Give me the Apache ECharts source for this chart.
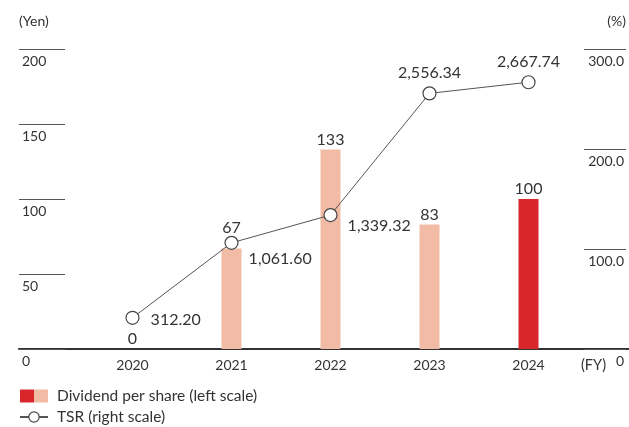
<!DOCTYPE html>
<html>
<head>
<meta charset="utf-8">
<script src="https://cdn.jsdelivr.net/npm/echarts@6/dist/echarts.min.js"></script>
<style>
  html, body { margin: 0; padding: 0; background: #fff; }
  #chart { width: 629px; height: 427px; }
</style>
</head>
<body>
<div id="chart"></div>
<script>
// Fiscal years and values
const years = ['2020', '2021', '2022', '2023', '2024'];
const dividendPerShare = [0, 67, 133, 83, 100];           // Yen, left scale
const tsrValues = [312.20, 1061.60, 1339.32, 2556.34, 2667.74]; // %, right scale
const leftTickLabels = ['0', '50', '100', '150', '200'];
const rightTickLabels = ['0', '100.0', '200.0', '300.0'];

const FONT = 'Lato, "Noto Sans", sans-serif';
const TEXT = '#333';
const SALMON = '#F2BBA6';
const RED = '#D8262B';

const fmtNum = v => v.toLocaleString('en-US', { minimumFractionDigits: 2, maximumFractionDigits: 2 });

// Per-point label placement for the TSR line
const tsrLabelPlacement = [
  { position: 'right', distance: 11, offset: [0, 2] },
  { position: 'right', distance: 10, offset: [0, 16] },
  { position: 'right', distance: 10, offset: [0, 11] },
  { position: 'top', distance: 5, offset: [0, 0] },
  { position: 'top', distance: 5, offset: [0, 0] }
];

const chart = echarts.init(document.getElementById('chart'), null, { renderer: 'canvas' });

chart.setOption({
  animation: false,
  textStyle: { fontFamily: FONT, color: TEXT },
  grid: [
    { left: 83, right: 48, top: 49, bottom: 78 },
    { left: 19, right: 0, top: 49, bottom: 78 }
  ],
  legend: {
    orient: 'vertical',
    left: 19,
    top: 388,
    height: 80,
    padding: 0,
    itemWidth: 28,
    itemHeight: 13,
    itemGap: 5,
    textStyle: { fontFamily: FONT, fontSize: 15.5, color: TEXT, padding: [0, 0, 0, 4] },
    data: [
      {
        name: 'Dividend per share (left scale)',
        icon: 'rect',
        itemStyle: {
          color: {
            type: 'linear', x: 0, y: 0, x2: 1, y2: 0,
            colorStops: [
              { offset: 0, color: RED }, { offset: 0.5, color: RED },
              { offset: 0.5, color: SALMON }, { offset: 1, color: SALMON }
            ]
          }
        }
      },
      { name: 'TSR (right scale)', itemStyle: { borderWidth: 1.2 } }
    ]
  },
  xAxis: [
    {
      type: 'category',
      gridIndex: 0,
      data: years,
      name: '(FY)',
      nameLocation: 'end',
      nameGap: 3,
      nameTextStyle: { fontFamily: FONT, fontSize: 14.5, color: TEXT, verticalAlign: 'top', padding: [9, 0, 0, 0] },
      axisLine: { show: false },
      axisTick: { show: false },
      axisLabel: { fontFamily: FONT, fontSize: 14, color: TEXT, margin: 9 }
    },
    {
      // full-width baseline
      type: 'value',
      gridIndex: 1,
      min: 0,
      max: 1,
      axisLine: { show: true, lineStyle: { color: '#333', width: 2 } },
      axisTick: { show: false },
      axisLabel: { show: false },
      splitLine: { show: false }
    }
  ],
  yAxis: [
    {
      type: 'value',
      gridIndex: 0,
      position: 'left',
      offset: 64,
      min: 0,
      max: 200,
      interval: 50,
      name: '(Yen)',
      nameLocation: 'end',
      nameGap: 21,
      nameTextStyle: { fontFamily: FONT, fontSize: 14, color: TEXT, align: 'left' },
      axisLine: { show: false },
      axisTick: { show: true, inside: true, length: 46, lineStyle: { color: '#555', width: 1 } },
      splitLine: { show: false },
      axisLabel: {
        inside: true,
        margin: 3,
        align: 'left',
        verticalAlign: 'top',
        padding: [5, 0, 0, 0],
        fontFamily: FONT, fontSize: 14, color: TEXT,
        formatter: v => leftTickLabels[Math.round(v / 50)]
      }
    },
    {
      type: 'value',
      gridIndex: 0,
      position: 'right',
      offset: 48,
      min: 0,
      max: 3000,
      interval: 1000,
      name: '(%)',
      nameLocation: 'end',
      nameGap: 21,
      nameTextStyle: { fontFamily: FONT, fontSize: 14, color: TEXT, align: 'right' },
      axisLine: { show: false },
      axisTick: { show: true, inside: true, length: 42, lineStyle: { color: '#555', width: 1 } },
      splitLine: { show: false },
      axisLabel: {
        inside: true,
        margin: 2,
        align: 'right',
        verticalAlign: 'top',
        padding: [5, 0, 0, 0],
        fontFamily: FONT, fontSize: 14, color: TEXT,
        formatter: v => rightTickLabels[Math.round(v / 1000)]
      }
    },
    {
      type: 'value',
      gridIndex: 1,
      show: false,
      min: 0,
      max: 1
    }
  ],
  series: [
    {
      name: 'Dividend per share (left scale)',
      type: 'bar',
      xAxisIndex: 0,
      yAxisIndex: 0,
      barWidth: 20,
      z: 2,
      itemStyle: { color: SALMON },
      label: {
        show: true,
        position: 'top',
        distance: 2,
        fontFamily: FONT, fontSize: 16, color: TEXT
      },
      data: dividendPerShare.map((v, i) => {
        const item = { value: v };
        if (i === years.length - 1) item.itemStyle = { color: RED };
        if (i === 1) item.label = { offset: [0, -11] };
        return item;
      })
    },
    {
      name: 'TSR (right scale)',
      type: 'line',
      xAxisIndex: 0,
      yAxisIndex: 1,
      z: 3,
      symbol: 'circle',
      symbolSize: 13,
      lineStyle: { color: '#555', width: 1 },
      itemStyle: { color: '#fff', borderColor: '#444', borderWidth: 1.2 },
      label: {
        show: true,
        fontFamily: FONT, fontSize: 16, color: TEXT,
        formatter: p => fmtNum(p.value)
      },
      data: tsrValues.map((v, i) => ({ value: v, label: tsrLabelPlacement[i] }))
    }
  ]
});
</script>
</body>
</html>
